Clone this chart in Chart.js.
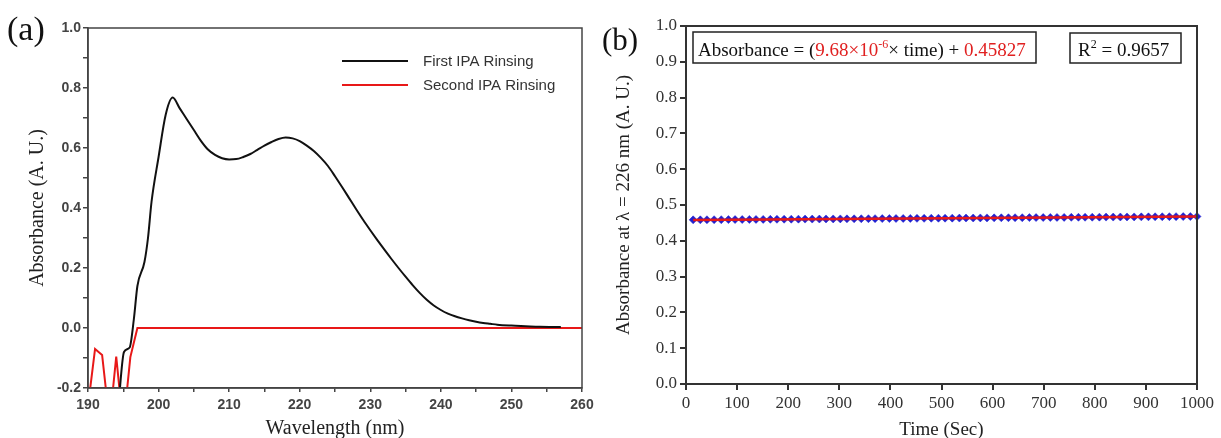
<!DOCTYPE html>
<html>
<head>
<meta charset="utf-8">
<script src="https://cdn.jsdelivr.net/npm/chart.js@4"></script>
<style>
  html, body { margin: 0; padding: 0; background: #fff; overflow: hidden; }
  #wrap { position: relative; width: 1221px; height: 438px; overflow: hidden; background: #fff; }
  canvas { position: absolute; top: 0; }
  #chartA { left: 0; }
  #chartB { left: 592px; }
</style>
</head>
<body>
<div id="wrap">
  <canvas id="chartA" width="600" height="441"></canvas>
  <canvas id="chartB" width="629" height="441"></canvas>
</div>
<script>
// (a) absorbance spectra after rinsing
const firstWl = [194.3, 195.1, 195.9, 196.5, 197.0, 198.0, 198.5, 199.0, 200.0, 201.0,
                 202.0, 203.0, 204.0, 205.0, 206.0, 207.0, 208.0, 209.0, 210.0, 211.0,
                 212.0, 213.0, 214.0, 215.0, 216.0, 217.0, 218.0, 219.0, 220.0, 221.0,
                 222.0, 223.0, 224.0, 225.0, 226.0, 227.0, 228.0, 229.0, 230.0, 231.0,
                 232.0, 233.0, 234.0, 235.0, 236.0, 237.0, 238.0, 239.0, 240.0, 241.0,
                 242.0, 243.0, 244.0, 245.0, 246.0, 247.0, 248.0, 250.0, 252.0, 254.0, 257.0];
const firstAbs = [-0.26, -0.08, -0.065, 0.03, 0.14, 0.22, 0.30, 0.42, 0.57, 0.71,
                  0.768, 0.732, 0.696, 0.660, 0.624, 0.595, 0.577, 0.566, 0.562, 0.563,
                  0.570, 0.580, 0.594, 0.608, 0.620, 0.630, 0.635, 0.632, 0.623, 0.608,
                  0.590, 0.567, 0.540, 0.506, 0.470, 0.433, 0.396, 0.360, 0.326, 0.293,
                  0.261, 0.230, 0.200, 0.171, 0.143, 0.117, 0.094, 0.075, 0.060, 0.048,
                  0.039, 0.032, 0.026, 0.021, 0.017, 0.014, 0.011, 0.008, 0.006, 0.004, 0.003];

const secondWl  = [190.0, 191.0, 191.5, 192.0, 192.8, 193.3, 194.0, 194.7, 195.3, 196.0, 197.0, 260.0];
const secondAbs = [-0.26, -0.07, -0.08, -0.09, -0.26, -0.26, -0.095, -0.26, -0.26, -0.097, 0.0, 0.0];

// (b) absorbance at 226 nm over time
const timeSec = [14, 28, 41, 55, 69, 83, 96, 110, 124, 137,
                 151, 165, 178, 192, 206, 220, 233, 247, 261, 274,
                 288, 302, 315, 329, 343, 357, 370, 384, 398, 411,
                 425, 439, 452, 466, 480, 494, 507, 521, 535, 548,
                 562, 576, 589, 603, 617, 631, 644, 658, 672, 685,
                 699, 713, 726, 740, 754, 768, 781, 795, 809, 822,
                 836, 850, 863, 877, 891, 905, 918, 932, 946, 959,
                 973, 987, 1000];
const abs226 = [0.4585, 0.4586, 0.4587, 0.4589, 0.4590, 0.4592, 0.4593, 0.4594, 0.4596, 0.4597,
                0.4598, 0.4600, 0.4601, 0.4602, 0.4603, 0.4605, 0.4606, 0.4607, 0.4608, 0.4610,
                0.4611, 0.4612, 0.4613, 0.4615, 0.4616, 0.4617, 0.4619, 0.4620, 0.4621, 0.4623,
                0.4624, 0.4625, 0.4627, 0.4628, 0.4630, 0.4631, 0.4632, 0.4633, 0.4635, 0.4636,
                0.4637, 0.4639, 0.4640, 0.4641, 0.4643, 0.4644, 0.4645, 0.4646, 0.4648, 0.4649,
                0.4650, 0.4652, 0.4653, 0.4654, 0.4656, 0.4657, 0.4658, 0.4659, 0.4661, 0.4662,
                0.4663, 0.4665, 0.4666, 0.4667, 0.4669, 0.4670, 0.4671, 0.4672, 0.4674, 0.4675,
                0.4676, 0.4678, 0.4679];
const fitTime = [14, 1000];
const fitAbs  = [0.4584, 0.4679];

const legendLabels = ['First IPA Rinsing', 'Second IPA Rinsing'];

const toPoints = (xs, ys) => xs.map((x, i) => ({ x: x, y: ys[i] }));

// draws top + right edges of the plot box
const framePlugin = {
    id: 'frame',
    afterDraw(chart, args, opts) {
        const { ctx, chartArea: a } = chart;
        ctx.save();
        ctx.strokeStyle = opts.color;
        ctx.lineWidth = opts.width;
        ctx.strokeRect(a.left, a.top, a.right - a.left, a.bottom - a.top);
        ctx.restore();
    }
};

function drawRuns(ctx, x, y, runs) {
    runs.forEach(r => {
        ctx.font = r.font;
        ctx.fillStyle = r.color;
        ctx.fillText(r.text, x, y + (r.dy || 0));
        x += ctx.measureText(r.text).width;
    });
}

Chart.register(framePlugin);

// ---------- panel (a) ----------
const panelA = {
    id: 'panelA',
    afterDraw(chart) {
        const ctx = chart.ctx;
        ctx.save();
        ctx.fillStyle = '#111';
        ctx.font = '34px "Liberation Serif", "Times New Roman", serif';
        ctx.textBaseline = 'alphabetic';
        ctx.fillText('(a)', 7, 40);

        // legend
        const colors = ['#111', '#e81818'];
        const ys = [61, 85];
        ctx.font = '15px "Liberation Sans", Arial, sans-serif';
        ctx.textBaseline = 'middle';
        legendLabels.forEach((lab, i) => {
            ctx.strokeStyle = colors[i];
            ctx.lineWidth = 2;
            ctx.beginPath();
            ctx.moveTo(342, ys[i]);
            ctx.lineTo(408, ys[i]);
            ctx.stroke();
            ctx.fillStyle = '#333';
            ctx.fillText(lab, 423, ys[i] + 1);
        });
        ctx.restore();
    }
};

new Chart(document.getElementById('chartA'), {
    type: 'line',
    data: {
        datasets: [{
            label: legendLabels[0],
            data: toPoints(firstWl, firstAbs),
            borderColor: '#111',
            borderWidth: 2,
            pointRadius: 0,
            cubicInterpolationMode: 'monotone',
            clip: 0
        }, {
            label: legendLabels[1],
            data: toPoints(secondWl, secondAbs),
            borderColor: '#e81818',
            borderWidth: 2,
            pointRadius: 0,
            tension: 0,
            clip: 0
        }]
    },
    options: {
        responsive: false,
        animation: false,
        layout: { padding: { left: 0, top: 28, right: 18, bottom: 0 } },
        plugins: {
            legend: { display: false },
            tooltip: { enabled: false },
            frame: { color: '#444', width: 1.5 }
        },
        scales: {
            x: {
                type: 'linear',
                min: 190,
                max: 260,
                afterFit: s => { s.height = 53; },
                ticks: {
                    stepSize: 5,
                    maxTicksLimit: 100,
                    autoSkip: false,
                    maxRotation: 0,
                    padding: 5,
                    color: '#444',
                    font: { family: '"Liberation Sans", Arial, sans-serif', size: 14, weight: 'bold' },
                    callback: v => (v % 10 === 0 ? String(v) : '')
                },
                grid: { display: true, drawOnChartArea: false, drawTicks: true, tickLength: 4, color: '#444', lineWidth: 1.5 },
                border: { display: true, color: '#444', width: 1.5 },
                title: {
                    display: true,
                    text: 'Wavelength (nm)',
                    color: '#222',
                    padding: { top: 0, bottom: 0 },
                    font: { family: '"Liberation Serif", "Times New Roman", serif', size: 20 }
                }
            },
            y: {
                min: -0.2,
                max: 1.0,
                afterFit: s => { s.width = 88; },
                ticks: {
                    stepSize: 0.1,
                    maxTicksLimit: 100,
                    autoSkip: false,
                    padding: 2,
                    color: '#444',
                    font: { family: '"Liberation Sans", Arial, sans-serif', size: 14, weight: 'bold' },
                    callback: v => {
                        const n = Math.round(v * 10);
                        if (n % 2 !== 0) return '';
                        return (n / 10).toFixed(1);
                    }
                },
                grid: { display: true, drawOnChartArea: false, drawTicks: true, tickLength: 5, color: '#444', lineWidth: 1.5 },
                border: { display: true, color: '#444', width: 1.5 },
                title: {
                    display: true,
                    text: 'Absorbance (A. U.)',
                    color: '#222',
                    padding: { top: 26, bottom: 0 },
                    font: { family: '"Liberation Serif", "Times New Roman", serif', size: 20 }
                }
            }
        }
    },
    plugins: [panelA]
});

// ---------- panel (b) ----------
const serif = '"Liberation Serif", "Times New Roman", serif';
const panelB = {
    id: 'panelB',
    afterDraw(chart) {
        const ctx = chart.ctx;
        const off = 592; // canvas left in page coords
        ctx.save();
        ctx.fillStyle = '#111';
        ctx.font = '31px ' + serif;
        ctx.textBaseline = 'alphabetic';
        ctx.fillText('(b)', 602 - off, 50);

        // equation + R² boxes
        ctx.strokeStyle = '#222';
        ctx.lineWidth = 1.5;
        ctx.strokeRect(693 - off, 32, 343, 31);
        ctx.strokeRect(1070 - off, 33, 111, 30);

        const big = '19px ' + serif;
        const small = '12px ' + serif;
        const red = '#e02020';
        const blk = '#111';
        drawRuns(ctx, 698 - off, 56, [
            { text: 'Absorbance = (', font: big, color: blk },
            { text: '9.68\u00d710', font: big, color: red },
            { text: '-6', font: small, color: red, dy: -8 },
            { text: '\u00d7 time) + ', font: big, color: blk },
            { text: '0.45827', font: big, color: red }
        ]);
        drawRuns(ctx, 1078 - off, 56, [
            { text: 'R', font: big, color: blk },
            { text: '2', font: small, color: blk, dy: -8 },
            { text: ' = 0.9657', font: big, color: blk }
        ]);
        ctx.restore();
    }
};

new Chart(document.getElementById('chartB'), {
    type: 'scatter',
    data: {
        datasets: [{
            type: 'line',
            label: 'Linear fit',
            data: toPoints(fitTime, fitAbs),
            borderColor: '#e81818',
            borderWidth: 2.5,
            pointRadius: 0,
            tension: 0
        }, {
            label: 'Absorbance at 226 nm',
            data: toPoints(timeSec, abs226),
            pointStyle: 'rectRot',
            pointRadius: 4,
            backgroundColor: '#2020d0',
            borderColor: '#2020d0',
            borderWidth: 0.5,
            clip: false
        }]
    },
    options: {
        responsive: false,
        animation: false,
        layout: { padding: { left: 0, top: 26, right: 24, bottom: 0 } },
        plugins: {
            legend: { display: false },
            tooltip: { enabled: false },
            frame: { color: '#333', width: 2 }
        },
        scales: {
            x: {
                type: 'linear',
                min: 0,
                max: 1000,
                afterFit: s => { s.height = 57; },
                ticks: {
                    stepSize: 100,
                    autoSkip: false,
                    maxRotation: 0,
                    padding: 3,
                    color: '#333',
                    font: { family: serif, size: 17 },
                    callback: v => String(v)
                },
                grid: { display: true, drawOnChartArea: false, drawTicks: true, tickLength: 6, color: '#333', lineWidth: 2 },
                border: { display: true, color: '#333', width: 2 },
                title: {
                    display: true,
                    text: 'Time (Sec)',
                    color: '#222',
                    padding: { top: 0, bottom: 0 },
                    font: { family: serif, size: 19 }
                }
            },
            y: {
                min: 0,
                max: 1.0,
                afterFit: s => { s.width = 94; },
                ticks: {
                    stepSize: 0.1,
                    autoSkip: false,
                    padding: 3,
                    color: '#333',
                    font: { family: serif, size: 17 },
                    callback: v => (Math.round(v * 10) / 10).toFixed(1)
                },
                grid: { display: true, drawOnChartArea: false, drawTicks: true, tickLength: 6, color: '#333', lineWidth: 2 },
                border: { display: true, color: '#333', width: 2 },
                title: {
                    display: true,
                    text: 'Absorbance at \u03bb = 226 nm (A. U.)',
                    color: '#222',
                    padding: { top: 21, bottom: 0 },
                    font: { family: serif, size: 19 }
                }
            }
        }
    },
    plugins: [panelB]
});
</script>
</body>
</html>
